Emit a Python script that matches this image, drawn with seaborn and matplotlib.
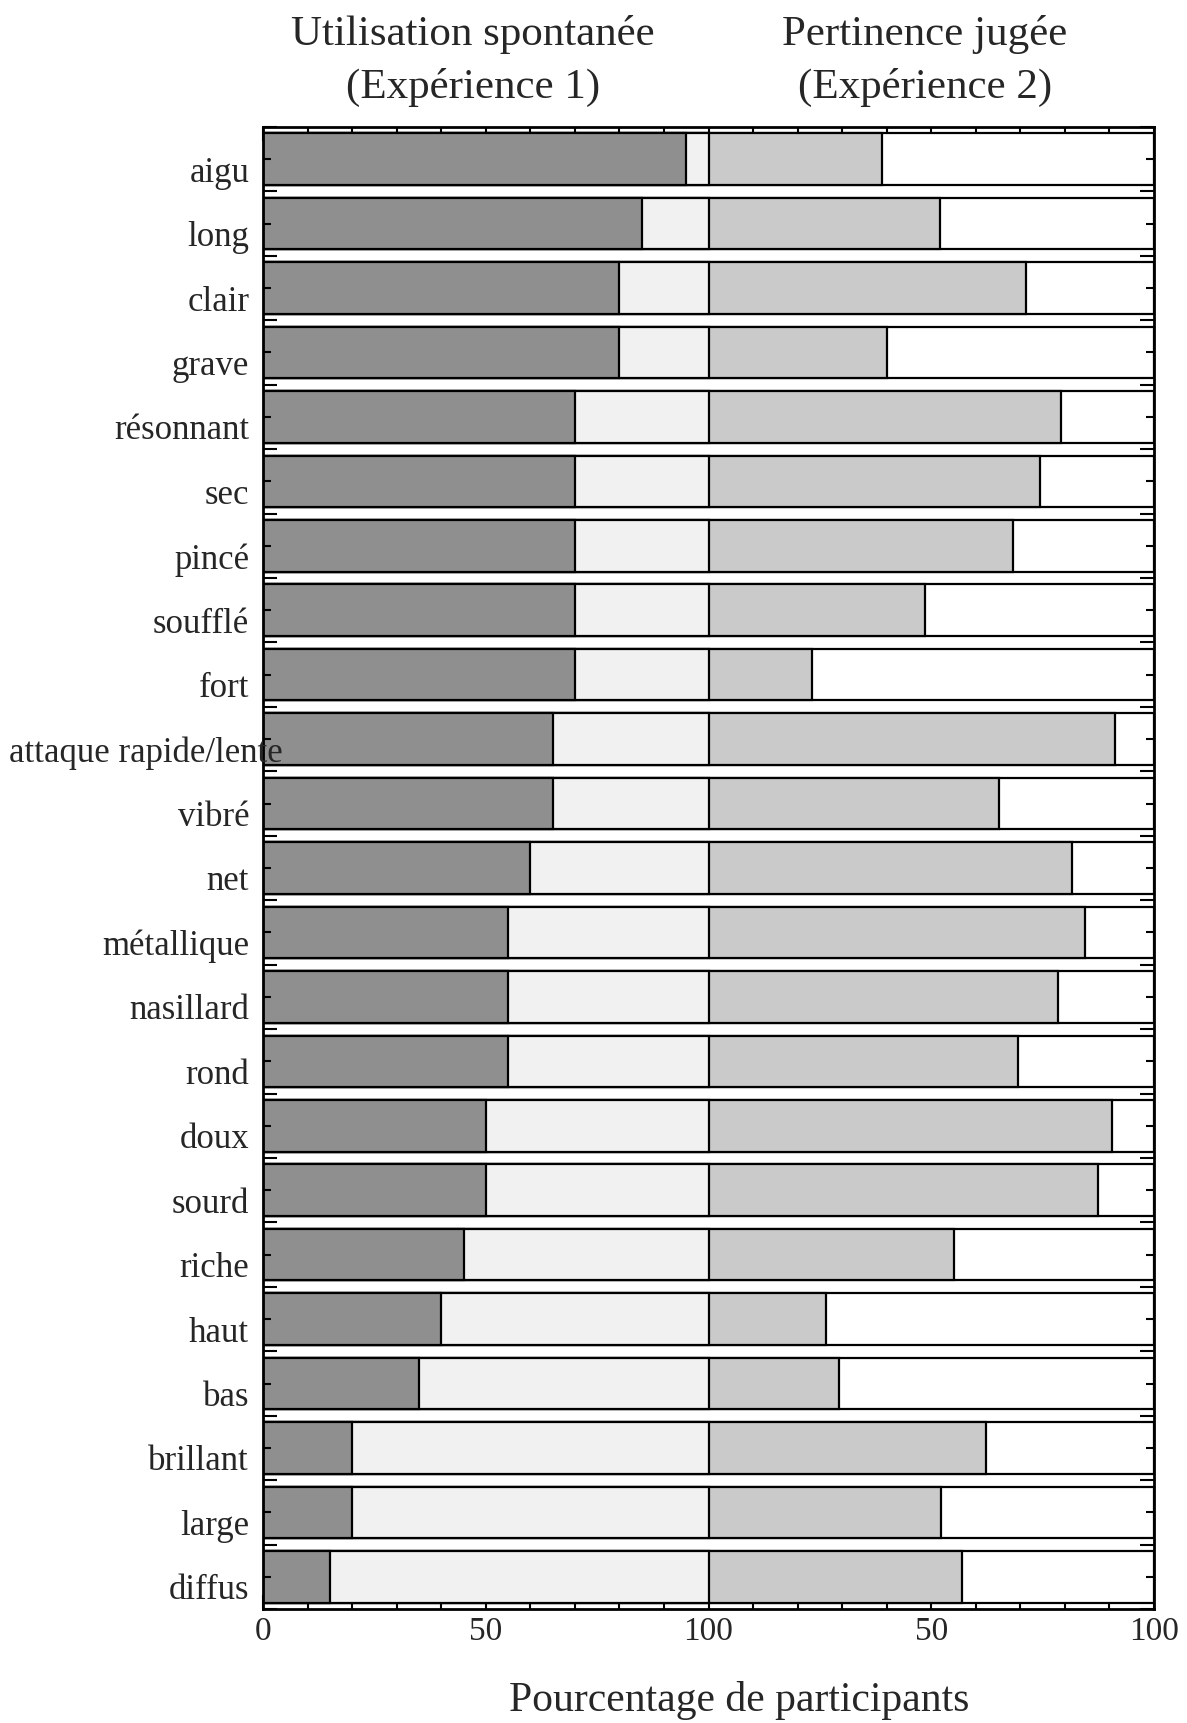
import pandas as pd
import matplotlib.pyplot as plt
import seaborn as sns
from matplotlib.ticker import MultipleLocator, FixedLocator
from matplotlib.transforms import ScaledTranslation

sns.set_theme(style="white")
plt.rcParams['font.family'] = ['Liberation Serif', 'DejaVu Serif']

# Descriptors, top to bottom
words = ["aigu", "long", "clair", "grave", "résonnant", "sec", "pincé", "soufflé",
         "fort", "attaque rapide/lente", "vibré", "net", "métallique", "nasillard",
         "rond", "doux", "sourd", "riche", "haut", "bas", "brillant", "large", "diffus"]

# Experiment 1: % of participants who used the word spontaneously
spontaneous = [95, 85, 80, 80, 70, 70, 70, 70, 70, 65, 65, 60, 55, 55, 55,
               50, 50, 45, 40, 35, 20, 20, 15]

# Experiment 2: % of participants who judged the word relevant
relevance = [39, 52, 71.3, 40, 79.2, 74.3, 68.3, 48.6, 23.3, 91.2, 65.3, 81.6,
             84.6, 78.5, 69.4, 90.5, 87.5, 55.2, 26.3, 29.3, 62.3, 52.2, 56.9]

xtick_vals = [0, 50, 100, 150, 200]
xtick_text = ["0", "50", "100", "50", "100"]

df = pd.DataFrame({"word": words, "exp1": spontaneous, "exp2": relevance})
df["full"] = 200
df["exp2_end"] = 100 + df["exp2"]
df["exp1_full"] = 100

fig = plt.figure(figsize=(11.87, 17.24), dpi=100)
ax = fig.add_axes([0.2216, 0.0661, 0.9722 - 0.2216, 0.9258 - 0.0661])

# stacked by drawing the longest first
layers = [("full", "white"), ("exp2_end", "#cacaca"),
          ("exp1_full", "#f1f1f1"), ("exp1", "#8f8f8f")]
for col, colour in layers:
    sns.barplot(data=df, x=col, y="word", orient="h", color=colour,
                edgecolor="black", linewidth=1.6, width=0.8, saturation=1,
                ax=ax, errorbar=None)

ax.set_xlim(0, 200)
ax.set_ylim(len(words) - 0.5, -0.5)
ax.set_xlabel("")
ax.set_ylabel("")

ax.xaxis.set_major_locator(FixedLocator(xtick_vals))
ax.set_xticklabels(xtick_text)
ax.xaxis.set_minor_locator(MultipleLocator(10))
ax.yaxis.set_minor_locator(FixedLocator([i + 0.5 for i in range(-1, len(words))]))

ax.tick_params(axis="x", which="major", direction="in", top=True, bottom=True,
               length=10, width=1.5, labelsize=24, pad=5, color="black")
ax.tick_params(axis="x", which="minor", direction="in", top=True, bottom=True,
               length=5, width=1.5, color="black")
ax.tick_params(axis="y", which="major", direction="in", left=True, right=True,
               length=6, width=1.5, labelsize=25, pad=10, color="black")
ax.tick_params(axis="y", which="minor", direction="in", left=True, right=True,
               length=10, width=1.5, color="black")
ax.yaxis.set_zorder(5)

for s in ax.spines.values():
    s.set_color("black")
    s.set_linewidth(2)

fig.text(0.3985, 0.9646, "Utilisation spontanée\n(Expérience 1)", ha="center",
         va="center", fontsize=31, linespacing=1.45)
fig.text(0.779, 0.9646, "Pertinence jugée\n(Expérience 2)", ha="center",
         va="center", fontsize=31, linespacing=1.45)
fig.text(0.6226, 0.0135, "Pourcentage de participants", ha="center",
         va="center", fontsize=30)

# row labels sit a little below the bar centres; long labels get pushed
# right so they are not cut by the figure edge
fig.canvas.draw()
for lbl in ax.get_yticklabels():
    bb = lbl.get_window_extent()
    dx = max(0, 9 - bb.x0)
    lbl.set_transform(lbl.get_transform() +
                      ScaledTranslation(dx / fig.dpi, -9 / fig.dpi, fig.dpi_scale_trans))

plt.savefig("out.png", dpi=100)
plt.close()
